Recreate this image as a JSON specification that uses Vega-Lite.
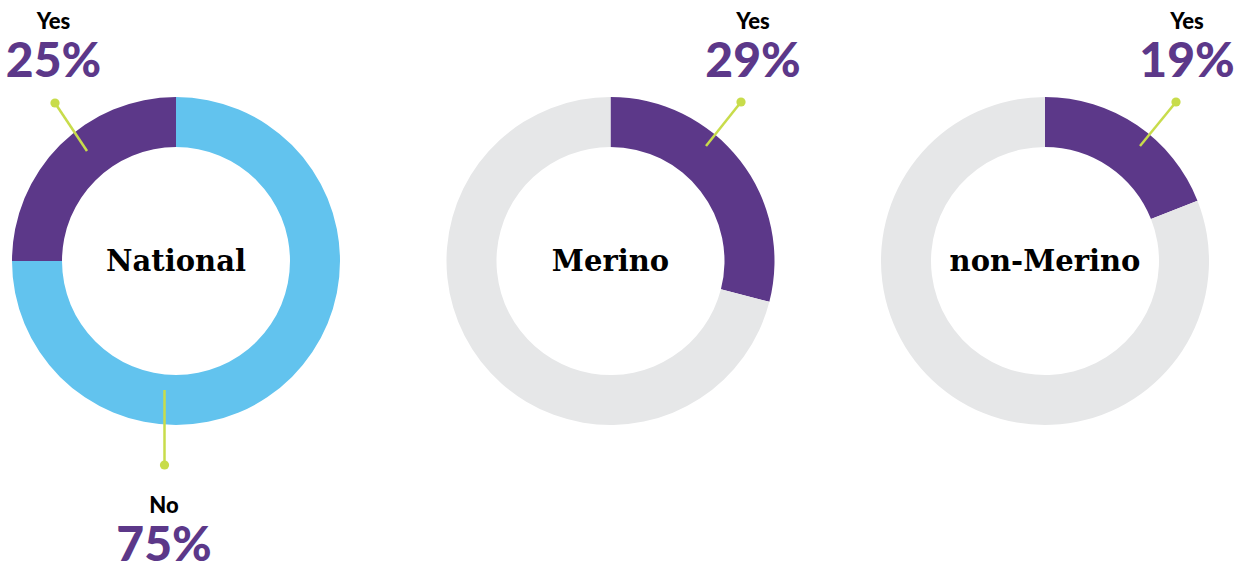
{
  "$schema": "https://vega.github.io/schema/vega-lite/v6.json",
  "width": 1236,
  "height": 563,
  "autosize": {"type": "fit", "contains": "padding"},
  "padding": 0,
  "background": "white",
  "config": {"view": {"stroke": null}},
  "datasets": {
    "shares": [
      {"chart": "National", "answer": "No", "value": 75},
      {"chart": "National", "answer": "Yes", "value": 25},
      {"chart": "Merino", "answer": "Yes", "value": 29},
      {"chart": "Merino", "answer": "No", "value": 71},
      {"chart": "non-Merino", "answer": "Yes", "value": 19},
      {"chart": "non-Merino", "answer": "No", "value": 81}
    ],
    "leaders": [
      {"chart": "National", "answer": "Yes", "x": 87, "y": 151, "x2": 55, "y2": 103},
      {"chart": "National", "answer": "No", "x": 164.5, "y": 390, "x2": 164.5, "y2": 465},
      {"chart": "Merino", "answer": "Yes", "x": 706, "y": 146, "x2": 741, "y2": 102},
      {"chart": "non-Merino", "answer": "Yes", "x": 1140, "y": 146, "x2": 1176, "y2": 102}
    ],
    "labels": [
      {"chart": "National", "answer": "Yes", "pct": "25%", "x": 53.5, "y": 29},
      {"chart": "National", "answer": "No", "pct": "75%", "x": 164, "y": 513},
      {"chart": "Merino", "answer": "Yes", "pct": "29%", "x": 753, "y": 29},
      {"chart": "non-Merino", "answer": "Yes", "pct": "19%", "x": 1187, "y": 29}
    ]
  },
  "resolve": {"scale": {"x": "independent"}},
  "layer": [
    {
      "data": {"name": "shares"},
      "transform": [{"stack": "value", "groupby": ["chart"], "as": ["v0", "v1"]}],
      "mark": {"type": "arc", "innerRadius": 114, "outerRadius": 164},
      "encoding": {
        "x": {"field": "chart", "type": "nominal", "axis": null,
              "scale": {"type": "point", "domain": ["National", "Merino", "non-Merino"], "range": [176, 1045], "padding": 0}},
        "y": {"datum": 261, "type": "quantitative", "scale": {"domain": [0, 563], "range": [0, 563], "nice": false, "zero": false}, "axis": null},
        "theta": {"field": "v0", "type": "quantitative", "scale": {"domain": [0, 100]}},
        "theta2": {"field": "v1"},
        "color": {
          "condition": [
            {"test": "datum.answer === 'Yes'", "value": "#5C3889"},
            {"test": "datum.chart === 'National'", "value": "#62C3EE"}
          ],
          "value": "#E6E7E8"
        }
      }
    },
    {
      "data": {"name": "shares"},
      "transform": [{"filter": "datum.answer === 'Yes'"}],
      "mark": {"type": "text", "font": "DejaVu Serif", "fontWeight": "bold", "fontSize": 29, "align": "center", "baseline": "middle", "color": "#000000"},
      "encoding": {
        "x": {"field": "chart", "type": "nominal", "axis": null,
              "scale": {"type": "point", "domain": ["National", "Merino", "non-Merino"], "range": [176, 1045], "padding": 0}},
        "y": {"datum": 262, "type": "quantitative"},
        "text": {"field": "chart"}
      }
    },
    {
      "data": {"name": "leaders"},
      "mark": {"type": "rule", "color": "#C8DC4B", "strokeWidth": 2.5},
      "encoding": {
        "x": {"field": "x", "type": "quantitative", "axis": null, "scale": {"domain": [0, 1236], "range": [0, 1236], "nice": false, "zero": false}},
        "y": {"field": "y", "type": "quantitative"},
        "x2": {"field": "x2"},
        "y2": {"field": "y2"}
      }
    },
    {
      "data": {"name": "leaders"},
      "mark": {"type": "point", "filled": true, "opacity": 1, "color": "#C8DC4B", "size": 85},
      "encoding": {
        "x": {"field": "x2", "type": "quantitative", "axis": null, "scale": {"domain": [0, 1236], "range": [0, 1236], "nice": false, "zero": false}},
        "y": {"field": "y2", "type": "quantitative"}
      }
    },
    {
      "data": {"name": "labels"},
      "mark": {"type": "text", "font": "Lato", "fontWeight": 900, "fontSize": 22, "align": "center", "baseline": "alphabetic", "color": "#000000"},
      "encoding": {
        "x": {"field": "x", "type": "quantitative", "axis": null, "scale": {"domain": [0, 1236], "range": [0, 1236], "nice": false, "zero": false}},
        "y": {"field": "y", "type": "quantitative"},
        "text": {"field": "answer"}
      }
    },
    {
      "data": {"name": "labels"},
      "mark": {"type": "text", "font": "Lato", "fontWeight": 900, "fontSize": 48, "align": "center", "baseline": "alphabetic", "color": "#5C3889", "dy": 48},
      "encoding": {
        "x": {"field": "x", "type": "quantitative", "axis": null, "scale": {"domain": [0, 1236], "range": [0, 1236], "nice": false, "zero": false}},
        "y": {"field": "y", "type": "quantitative"},
        "text": {"field": "pct"}
      }
    }
  ]
}
